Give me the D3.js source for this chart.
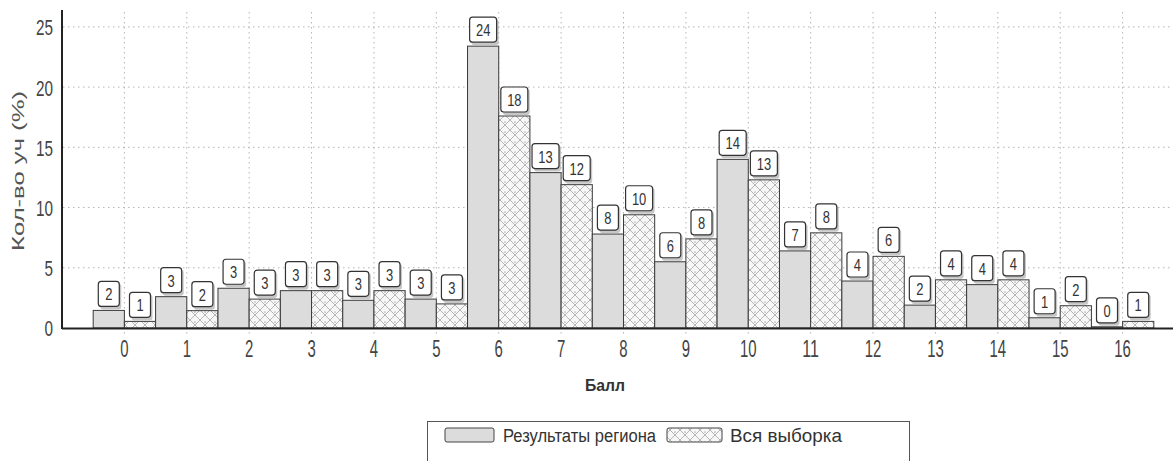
<!DOCTYPE html>
<html><head><meta charset="utf-8">
<script src="https://cdn.jsdelivr.net/npm/d3@7"></script>
<style>body{margin:0;background:#fff;overflow:hidden}svg{display:block}text{font-family:"Liberation Sans",Arial,sans-serif}</style>
</head><body><svg id="c" width="1173" height="461"></svg>
<script>
const categories = ["0","1","2","3","4","5","6","7","8","9","10","11","12","13","14","15","16"];
const regionValues = [1.46, 2.6, 3.3, 3.1, 2.3, 2.4, 23.4, 12.9, 7.8, 5.5, 14.0, 6.4, 3.9, 1.9, 3.6, 0.85, 0.1];
const sampleValues = [0.55, 1.44, 2.4, 3.1, 3.1, 2.0, 17.6, 11.9, 9.4, 7.4, 12.3, 7.9, 5.95, 4.0, 4.0, 1.85, 0.55];
const regionLabels = ["2","3","3","3","3","3","24","13","8","6","14","7","4","2","4","1","0"];
const sampleLabels = ["1","2","3","3","3","3","18","12","10","8","13","8","6","4","4","2","1"];
const yTicks = [0,5,10,15,20,25];
const seriesNames = ["Результаты региона","Вся выборка"];
const yTitle = "Кол-во уч (%)";
const xTitle = "Балл";

const svg = d3.select("#c");
const defs = svg.append("defs");
const pat = defs.append("pattern").attr("id","hatch").attr("patternUnits","userSpaceOnUse")
  .attr("width",10).attr("height",10);
pat.append("rect").attr("width",10).attr("height",10).attr("fill","#f7f7f7");
pat.append("path").attr("d","M0,0L10,10M10,0L0,10").attr("stroke","#9a9a9a").attr("stroke-width",0.7);
pat.append("circle").attr("cx",5).attr("cy",2).attr("r",0.6).attr("fill","#666");

const x = d3.scaleBand().domain(categories).range([62,1185]).paddingInner(0).paddingOuter(0.5);
const xs = d3.scaleBand().domain(["r","s"]).range([0,x.bandwidth()]);
const y = d3.scaleLinear().domain([0,26.4]).range([328,10]);

// grid
const grid = svg.append("g").attr("stroke","#b5b5b5").attr("stroke-dasharray","1.5,3.5").attr("stroke-width",1);
grid.selectAll(".h").data(yTicks.slice(1)).join("line")
  .attr("x1",63).attr("x2",1173).attr("y1",d=>y(d)).attr("y2",d=>y(d));
grid.selectAll(".v").data(categories).join("line")
  .attr("x1",d=>x(d)+x.bandwidth()/2).attr("x2",d=>x(d)+x.bandwidth()/2).attr("y1",12).attr("y2",336);

// bars
const data = categories.map((c,i)=>({c, r:regionValues[i], s:sampleValues[i], rl:regionLabels[i], sl:sampleLabels[i]}));
const bars = [];
data.forEach(d=>{ bars.push({c:d.c,k:"r",v:d.r,l:d.rl}); bars.push({c:d.c,k:"s",v:d.s,l:d.sl}); });
svg.append("g").selectAll("rect").data(bars).join("rect")
  .attr("x",d=>x(d.c)+xs(d.k)).attr("width",xs.bandwidth())
  .attr("y",d=>y(d.v)).attr("height",d=>y(0)-y(d.v))
  .attr("fill",d=>d.k==="r"?"#dcdcdc":"url(#hatch)")
  .attr("stroke","#3a3a3a").attr("stroke-width",1);

// axes
const yAxis = svg.append("g").attr("transform","translate(62,0)")
  .call(d3.axisLeft(y).tickValues(yTicks).tickSize(0).tickPadding(9));
yAxis.select(".domain").remove();
yAxis.selectAll("text").attr("font-size",22).attr("fill","#444")
  .attr("textLength",d=>String(d).length*8.5).attr("lengthAdjust","spacingAndGlyphs").attr("dy","0.36em");
const xAxis = svg.append("g").attr("transform","translate(0,328)")
  .call(d3.axisBottom(x).tickSize(0).tickPadding(12));
xAxis.select(".domain").remove();
xAxis.selectAll("text").attr("font-size",23).attr("fill","#444")
  .attr("textLength",d=>d.length*8.3).attr("lengthAdjust","spacingAndGlyphs").attr("dy","0.72em");
svg.append("line").attr("x1",62).attr("x2",1173).attr("y1",328.5).attr("y2",328.5).attr("stroke","#222").attr("stroke-width",2);
svg.append("line").attr("x1",62).attr("x2",62).attr("y1",10).attr("y2",329).attr("stroke","#222").attr("stroke-width",2);

// value labels
const lab = svg.append("g").selectAll("g").data(bars).join("g")
  .attr("transform",d=>`translate(${x(d.c)+xs(d.k)+xs.bandwidth()/2},${y(d.v)-2})`);
const bw = d=> d.l.length>1?27:21;
lab.append("rect").attr("x",d=>-bw(d)/2+2).attr("y",-25).attr("width",bw).attr("height",26).attr("rx",3)
  .attr("fill","#b8b8b8").attr("opacity",0.8);
lab.append("rect").attr("x",d=>-bw(d)/2).attr("y",-27).attr("width",bw).attr("height",25).attr("rx",3)
  .attr("fill","#fff").attr("stroke","#333").attr("stroke-width",1.2);
lab.append("text").attr("text-anchor","middle").attr("y",-8).attr("font-size",17).attr("fill","#333")
  .attr("textLength",d=>d.l.length*7.2).attr("lengthAdjust","spacingAndGlyphs").text(d=>d.l);

// titles
svg.append("text").attr("transform","translate(24,171) rotate(-90)").attr("text-anchor","middle")
  .attr("font-size",17).attr("fill","#555").attr("textLength",160).attr("lengthAdjust","spacingAndGlyphs").text(yTitle);
svg.append("text").attr("x",605).attr("y",391).attr("text-anchor","middle").attr("font-size",17)
  .attr("font-weight","bold").attr("fill","#333").attr("textLength",40).attr("lengthAdjust","spacingAndGlyphs").text(xTitle);

// legend
const lg = svg.append("g");
lg.append("rect").attr("x",427.5).attr("y",421.5).attr("width",482).attr("height",60).attr("fill","#fff").attr("stroke","#555");
const legItems = [{n:seriesNames[0],f:"#dcdcdc",sx:445,sw:49,tx:503,tl:153},{n:seriesNames[1],f:"url(#hatch)",sx:667,sw:55,tx:730,tl:112}];
legItems.forEach(it=>{
  lg.append("rect").attr("x",it.sx).attr("y",428).attr("width",it.sw).attr("height",14).attr("rx",2)
    .attr("fill",it.f).attr("stroke","#444");
  lg.append("text").attr("x",it.tx).attr("y",442).attr("font-size",18).attr("fill","#333")
    .attr("textLength",it.tl).attr("lengthAdjust","spacingAndGlyphs").text(it.n);
});
</script></body></html>
